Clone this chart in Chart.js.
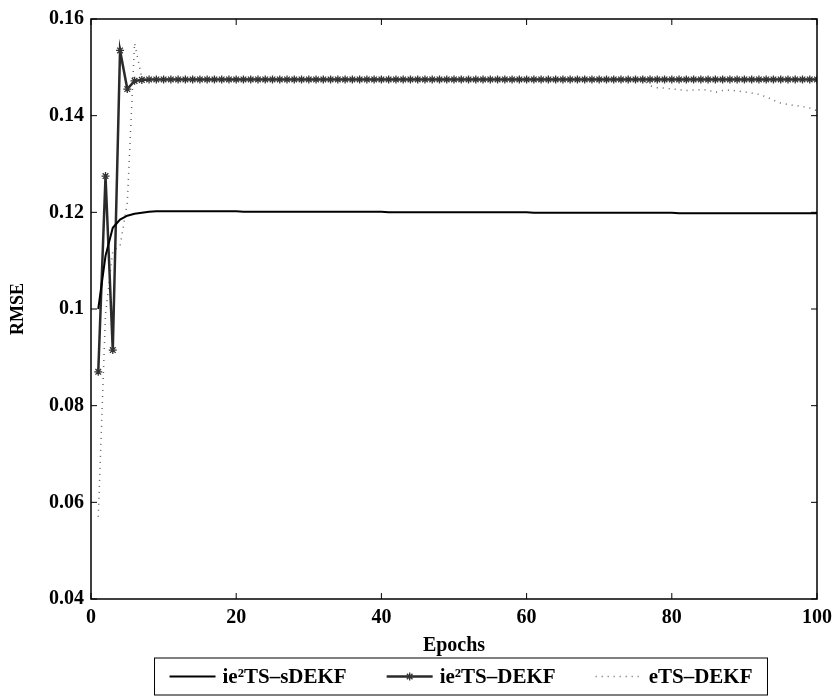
<!DOCTYPE html>
<html>
<head>
<meta charset="utf-8">
<script src="https://cdn.jsdelivr.net/npm/chart.js@4.4.1/dist/chart.umd.min.js"></script>
<style>
  html, body { margin: 0; padding: 0; background: #ffffff; }
  #wrap { width: 834px; height: 699px; }
</style>
</head>
<body>
<div id="wrap"><canvas id="c" width="834" height="699"></canvas></div>
<script>
// ---- data ----
const epochs = [1,2,3,4,5,6,7,8,9,10,11,12,13,14,15,16,17,18,19,20,21,22,23,24,25,26,27,28,29,30,31,32,33,34,35,36,37,38,39,40,41,42,43,44,45,46,47,48,49,50,51,52,53,54,55,56,57,58,59,60,61,62,63,64,65,66,67,68,69,70,71,72,73,74,75,76,77,78,79,80,81,82,83,84,85,86,87,88,89,90,91,92,93,94,95,96,97,98,99,100];

const sDEKF = [0.1000,0.1110,0.1168,0.1185,0.1193,0.1197,0.1199,0.1201,0.1202,0.1202,
  0.1202,0.1202,0.1202,0.1202,0.1202,0.1202,0.1202,0.1202,0.1202,0.1202,
  0.1201,0.1201,0.1201,0.1201,0.1201,0.1201,0.1201,0.1201,0.1201,0.1201,
  0.1201,0.1201,0.1201,0.1201,0.1201,0.1201,0.1201,0.1201,0.1201,0.1201,
  0.1200,0.1200,0.1200,0.1200,0.1200,0.1200,0.1200,0.1200,0.1200,0.1200,
  0.1200,0.1200,0.1200,0.1200,0.1200,0.1200,0.1200,0.1200,0.1200,0.1200,
  0.1199,0.1199,0.1199,0.1199,0.1199,0.1199,0.1199,0.1199,0.1199,0.1199,
  0.1199,0.1199,0.1199,0.1199,0.1199,0.1199,0.1199,0.1199,0.1199,0.1199,
  0.1198,0.1198,0.1198,0.1198,0.1198,0.1198,0.1198,0.1198,0.1198,0.1198,
  0.1198,0.1198,0.1198,0.1198,0.1198,0.1198,0.1198,0.1198,0.1198,0.1198];

const DEKF = [0.0870,0.1275,0.0915,0.1535,0.1455,0.1472,0.1474,0.1475,0.1475,0.1475,
  0.1475,0.1475,0.1475,0.1475,0.1475,0.1475,0.1475,0.1475,0.1475,0.1475,
  0.1475,0.1475,0.1475,0.1475,0.1475,0.1475,0.1475,0.1475,0.1475,0.1475,
  0.1475,0.1475,0.1475,0.1475,0.1475,0.1475,0.1475,0.1475,0.1475,0.1475,
  0.1475,0.1475,0.1475,0.1475,0.1475,0.1475,0.1475,0.1475,0.1475,0.1475,
  0.1475,0.1475,0.1475,0.1475,0.1475,0.1475,0.1475,0.1475,0.1475,0.1475,
  0.1475,0.1475,0.1475,0.1475,0.1475,0.1475,0.1475,0.1475,0.1475,0.1475,
  0.1475,0.1475,0.1475,0.1475,0.1475,0.1475,0.1475,0.1475,0.1475,0.1475,
  0.1475,0.1475,0.1475,0.1475,0.1475,0.1475,0.1475,0.1475,0.1475,0.1475,
  0.1475,0.1475,0.1475,0.1475,0.1475,0.1475,0.1475,0.1475,0.1475,0.1475];

const eTS = [0.0570,0.0990,0.1120,0.1130,0.1220,0.1550,0.1478,0.1476,0.1475,0.1475,
  0.1475,0.1475,0.1475,0.1475,0.1475,0.1475,0.1475,0.1475,0.1475,0.1475,
  0.1475,0.1475,0.1475,0.1475,0.1475,0.1475,0.1475,0.1475,0.1475,0.1475,
  0.1475,0.1475,0.1475,0.1475,0.1475,0.1475,0.1475,0.1475,0.1475,0.1475,
  0.1475,0.1475,0.1475,0.1475,0.1475,0.1475,0.1475,0.1475,0.1475,0.1475,
  0.1475,0.1475,0.1475,0.1475,0.1475,0.1475,0.1475,0.1475,0.1475,0.1475,
  0.1475,0.1475,0.1475,0.1475,0.1475,0.1475,0.1475,0.1475,0.1475,0.1475,
  0.1475,0.1475,0.1475,0.1475,0.1475,0.1475,0.1462,0.1458,0.1457,0.1455,
  0.1454,0.1452,0.1453,0.1454,0.1453,0.1448,0.1452,0.1453,0.1451,0.1449,
  0.1447,0.1444,0.1439,0.1432,0.1426,0.1423,0.1421,0.1419,0.1416,0.1410];

const xTicks = [0, 20, 40, 60, 80, 100];
const yTicks = [0.04, 0.06, 0.08, 0.1, 0.12, 0.14, 0.16];
const yTickLabels = ['0.04', '0.06', '0.08', '0.1', '0.12', '0.14', '0.16'];
const seriesNames = ['ie\u00B2TS\u2013sDEKF', 'ie\u00B2TS\u2013DEKF', 'eTS\u2013DEKF'];

const FONT = '"Liberation Serif", "DejaVu Serif", serif';

function pts(arr) { return arr.map((v, i) => ({ x: epochs[i], y: v })); }

// frame, inward ticks
const framePlugin = {
  id: 'frame',
  afterDraw(chart) {
    const ctx = chart.ctx, a = chart.chartArea;
    const xs = chart.scales.x, ys = chart.scales.y;
    ctx.save();
    ctx.strokeStyle = '#000';
    ctx.lineWidth = 1.5;
    ctx.strokeRect(a.left, a.top, a.right - a.left, a.bottom - a.top);
    ctx.lineWidth = 1;
    const tl = 6;
    xTicks.forEach(t => {
      const px = xs.getPixelForValue(t);
      ctx.beginPath();
      ctx.moveTo(px, a.bottom); ctx.lineTo(px, a.bottom - tl);
      ctx.moveTo(px, a.top); ctx.lineTo(px, a.top + tl);
      ctx.stroke();
    });
    yTicks.forEach(t => {
      const py = ys.getPixelForValue(t);
      ctx.beginPath();
      ctx.moveTo(a.left, py); ctx.lineTo(a.left + tl, py);
      ctx.moveTo(a.right, py); ctx.lineTo(a.right - tl, py);
      ctx.stroke();
    });
    ctx.restore();
  }
};

// boxed legend below the axes, styled from the datasets
const boxLegendPlugin = {
  id: 'boxLegend',
  afterDraw(chart) {
    const ctx = chart.ctx;
    const sampleLen = 46, gapText = 7, gapItem = 40, margin = 15;
    const fontSize = 21;
    ctx.save();
    ctx.font = 'bold ' + fontSize + 'px ' + FONT;
    const widths = chart.data.datasets.map(d => ctx.measureText(d.label).width);
    let total = margin * 2;
    widths.forEach((w, i) => { total += sampleLen + gapText + w + (i > 0 ? gapItem : 0); });
    const center = (chart.chartArea.left + chart.chartArea.right) / 2 + 7;
    const left = center - total / 2;
    const h = 37;
    const top = chart.height - h - 4;
    const cy = top + h / 2;
    ctx.strokeStyle = '#000';
    ctx.lineWidth = 1;
    ctx.strokeRect(left, top, total, h);
    let x = left + margin;
    chart.data.datasets.forEach((d, i) => {
      ctx.save();
      ctx.strokeStyle = d.borderColor;
      ctx.lineWidth = d.borderWidth;
      ctx.setLineDash(d.borderDash || []);
      ctx.beginPath();
      ctx.moveTo(x, cy); ctx.lineTo(x + sampleLen, cy);
      ctx.stroke();
      ctx.restore();
      if (d.pointStyle === 'star') {
        ctx.save();
        ctx.strokeStyle = d.pointBorderColor;
        ctx.fillStyle = d.pointBorderColor;
        ctx.lineWidth = d.pointBorderWidth;
        Chart.helpers.drawPoint(ctx, { pointStyle: 'star', radius: d.pointRadius, rotation: 0, borderWidth: d.pointBorderWidth }, x + sampleLen / 2, cy);
        ctx.restore();
      }
      x += sampleLen + gapText;
      ctx.fillStyle = '#000';
      ctx.textBaseline = 'middle';
      ctx.textAlign = 'left';
      ctx.fillText(d.label, x, cy + 1);
      x += widths[i] + gapItem;
    });
    ctx.restore();
  }
};

new Chart(document.getElementById('c'), {
  type: 'line',
  data: {
    datasets: [
      {
        label: seriesNames[0],
        data: pts(sDEKF),
        borderColor: '#000',
        backgroundColor: '#000',
        borderWidth: 2,
        pointRadius: 0,
        tension: 0
      },
      {
        label: seriesNames[1],
        data: pts(DEKF),
        borderColor: '#2a2a2a',
        backgroundColor: '#2a2a2a',
        borderWidth: 2.5,
        pointStyle: 'star',
        pointRadius: 4,
        pointBorderWidth: 1.3,
        pointBorderColor: '#333',
        tension: 0
      },
      {
        label: seriesNames[2],
        data: pts(eTS),
        borderColor: '#666',
        backgroundColor: '#666',
        borderWidth: 1.5,
        borderDash: [1, 5],
        pointRadius: 0,
        tension: 0
      }
    ]
  },
  options: {
    responsive: false,
    animation: false,
    layout: { padding: { left: 8, right: 0, top: 8, bottom: 45 } },
    plugins: {
      tooltip: { enabled: false },
      legend: { display: false }
    },
    scales: {
      x: {
        type: 'linear',
        min: 0, max: 100,
        afterBuildTicks(scale) { scale.ticks = xTicks.map(v => ({ value: v })); },
        afterFit(scale) { scale.paddingRight = 17; },
        grid: { display: false, drawTicks: false },
        border: { display: false },
        ticks: {
          color: '#000',
          font: { family: FONT, size: 20, weight: 'bold', lineHeight: 1.0 },
          padding: 9,
          maxRotation: 0
        },
        title: {
          display: true, text: 'Epochs', color: '#000',
          font: { family: FONT, size: 20, weight: 'bold', lineHeight: 0.85 },
          padding: { top: 0, bottom: 0 }
        }
      },
      y: {
        type: 'linear',
        min: 0.04, max: 0.16,
        afterBuildTicks(scale) { scale.ticks = yTicks.map(v => ({ value: v })); },
        afterFit(scale) { scale.width = 83; },
        grid: { display: false, drawTicks: false },
        border: { display: false },
        ticks: {
          color: '#000',
          font: { family: FONT, size: 20, weight: 'bold' },
          padding: 7,
          callback(v) { const i = yTicks.indexOf(v); return i >= 0 ? yTickLabels[i] : ''; }
        },
        title: {
          display: true, text: 'RMSE', color: '#000',
          font: { family: FONT, size: 18, weight: 'bold' },
          padding: { top: 0, bottom: 0 }
        }
      }
    }
  },
  plugins: [framePlugin, boxLegendPlugin]
});
</script>
</body>
</html>
